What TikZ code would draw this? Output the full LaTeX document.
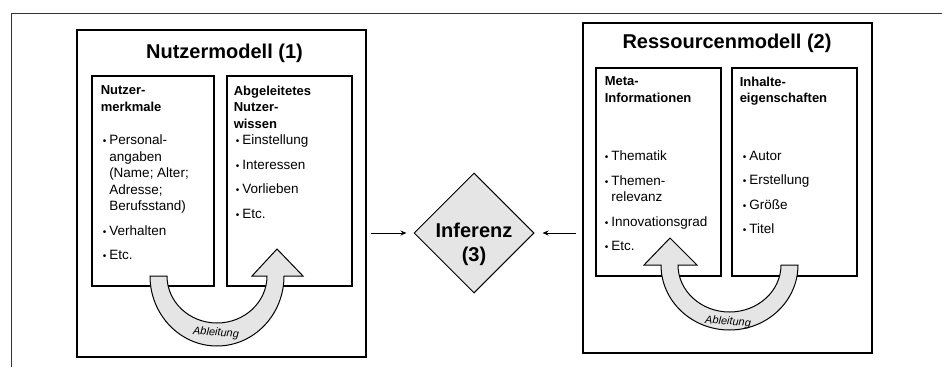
\documentclass[tikz,border=0pt]{standalone}
\usepackage{fontspec}
\setmainfont{Liberation Sans}
\usepackage{graphicx}
\usetikzlibrary{arrows, shapes.geometric}
\usetikzlibrary{positioning}
\usetikzlibrary{calc,arrows.meta}
\definecolor{lightgrey}{gray}{0.9}
\tikzset{
    every node/.style={font=\fontsize{13.5}{16.5}\selectfont},
    model box/.style={draw, line width=1.1pt, inner sep=0pt},
    part box/.style={draw, line width=1.1pt, inner sep=0pt},
    title text/.style={font=\fontsize{20}{24}\selectfont\bfseries, inner sep=0pt},
    head text/.style={font=\fontsize{13}{16.5}\selectfont\bfseries, align=left, inner sep=0pt},
    list text/.style={font=\fontsize{13.5}{16.5}\selectfont, align=left, inner sep=0pt},
    bend arrow/.style={draw, line width=1pt, fill=lightgrey},
    bend label/.style={font=\fontsize{11}{13}\selectfont\itshape, inner sep=0pt, rotate=-4}
}
\newcommand{\itm}{\makebox[6.5pt][l]{\scalebox{0.75}{\textbullet}}}
\newcommand{\ind}{\hspace*{6.5pt}}

\begin{document}
\begin{tikzpicture}[
            x = 1pt, y = 1pt,
            > = {Stealth[length=6pt, width=5pt]}, % arrow head style
            semithick % line style
        ]
        \useasboundingbox (0,0) rectangle (942,-367);

        % frame of the page
        \draw[line width=1pt, black!80] (11,-367) -- (11,-13) -- (942,-13);

        % user model
        \node[model box, minimum width=289pt, minimum height=327pt] (num) at (221.5,-193.5) {};
        \node[title text] (numt) at (224.5,-53) {Nutzermodell (1)};
        \node[part box, minimum width=122pt, minimum height=210pt] (merk) at (153,-181) {};
        \node[part box, minimum width=125pt, minimum height=210pt] (wiss) at (289.5,-181) {};

        \node[head text, below right=10pt and 9pt of merk.north west] (merkh) {Nutzer-\\merkmale};
        \node[list text, below right=59pt and 11pt of merk.north west] (merkl) {\itm Personal-\\ \ind angaben\\ \ind (Name; Alter;\\ \ind Adresse;\\ \ind Berufsstand)\\[8pt] \itm Verhalten\\[8pt] \itm Etc.};
        \node[head text, below right=10pt and 7pt of wiss.north west] (wissh) {Abgeleitetes\\Nutzer-\\wissen};
        \node[list text, below right=59pt and 9pt of wiss.north west] (wissl) {\itm Einstellung\\[8pt] \itm Interessen\\[8pt] \itm Vorlieben\\[8pt] \itm Etc.};

        \draw[bend arrow] (150,-276) arc[start angle=180, end angle=360, x radius=67pt, y radius=70pt]
            -- (303,-276) -- (277,-249) -- (252,-276) -- (267,-276)
            arc[start angle=0, end angle=-180, x radius=50pt, y radius=47pt] -- cycle;
        \node[bend label] (abl1) at (216,-333) {Ableitung};

        % resource model
        \node[model box, minimum width=289pt, minimum height=330pt] (res) at (727.5,-188) {};
        \node[title text] (rest) at (727,-43) {Ressourcenmodell (2)};
        \node[part box, minimum width=125pt, minimum height=208pt] (meta) at (658.5,-172) {};
        \node[part box, minimum width=125pt, minimum height=208pt] (inh) at (794.5,-172) {};

        \node[head text, below right=9pt and 9pt of meta.north west] (metah) {Meta-\\Informationen};
        \node[list text, below right=83pt and 9pt of meta.north west] (metal) {\itm Thematik\\[8pt] \itm Themen-\\ \ind relevanz\\[8pt] \itm Innovationsgrad\\[8pt] \itm Etc.};
        \node[head text, below right=9pt and 8pt of inh.north west] (inhh) {Inhalte-\\eigenschaften};
        \node[list text, below right=83pt and 11pt of inh.north west] (inhl) {\itm Autor\\[8pt] \itm Erstellung\\[8pt] \itm Größe\\[8pt] \itm Titel};

        \draw[bend arrow] (798,-265) arc[start angle=0, end angle=-180, x radius=68.5pt, y radius=65pt]
            -- (644,-265) -- (670,-238) -- (697,-265) -- (678,-265)
            arc[start angle=180, end angle=360, x radius=51.5pt, y radius=47pt] -- cycle;
        \node[bend label] (abl2) at (728,-322) {Ableitung};

        % inference
        \node[diamond, draw, fill=lightgrey, line width=1pt, minimum width=120pt, minimum height=120pt, inner sep=0pt] (inf) at (474,-233) {};
        \node[title text, align=center] (inft) at ([yshift=-11pt]inf.center) {Inferenz\\(3)};

        \draw[->, line width=1pt, shorten <=4pt, shorten >=7pt] (inf.west -| num.east) -- (inf.west);
        \draw[->, line width=1pt, shorten <=6pt, shorten >=8pt] (inf.east -| res.west) -- (inf.east);

  \end{tikzpicture}
\end{document}
